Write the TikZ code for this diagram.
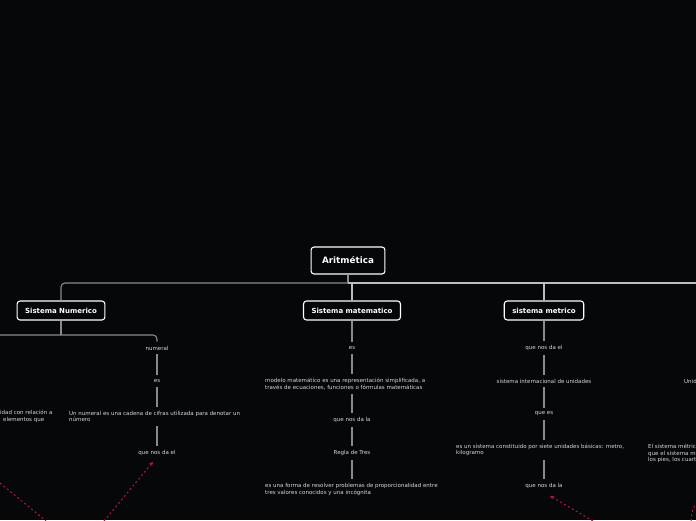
\documentclass[tikz,border=0pt]{standalone}
\usepackage{fontspec}
\setmainfont{DejaVu Sans}
\usetikzlibrary{arrows.meta, positioning}
\definecolor{bgdark}{HTML}{060709}
\definecolor{linegray}{HTML}{8A8A8A}
\definecolor{lightline}{HTML}{BDBDBD}
\definecolor{textgray}{HTML}{D8D8D8}
\definecolor{linkred}{HTML}{B8124C}

\begin{document}
\begin{tikzpicture}[x=1pt, y=-1pt,
  topic/.style={draw=white, line width=1.1pt, rounded corners=3pt, fill=bgdark, text=white,
    font=\fontsize{7}{8}\selectfont\bfseries, minimum height=19pt, inner xsep=8pt},
  rootbox/.style={topic, font=\fontsize{8.8}{10}\selectfont\bfseries, minimum height=27pt, inner xsep=11pt},
  leaf/.style={text=textgray, font=\fontsize{5.5}{6.5}\selectfont, inner xsep=0pt, inner ysep=4pt},
  longleaf/.style={leaf, align=left, anchor=west},
  branch/.style={draw=linegray, line width=1.1pt},
  xlink/.style={draw=linkred, line width=1pt, dash pattern=on 2pt off 2.5pt},
  xarrow/.style={xlink, -{Stealth[length=4pt, width=4pt]}}]

  % Background and frame
  \fill[bgdark] (0,0) rectangle (696,520);
  \useasboundingbox (0,0) rectangle (696,520);
  \clip (0,0) rectangle (696,520);

  % Main topics
  \node[rootbox] (arit) at (348,260.5) {Aritmética};
  \node[topic] (snum) at (61,310.5) {Sistema Numerico};
  \node[topic] (smat) at (352,310.5) {Sistema matematico};
  \node[topic] (smet) at (544,310.5) {sistema metrico};

  % Sistema Numerico
  \node[leaf] (numeral) at (157,348) {numeral};
  \node[leaf] (numEs) at (157,381) {es};
  \node[longleaf] (numDef) at (69,416.5) {Un numeral es una cadena de cifras utilizada para denotar un\\número};
  \node[leaf] (numDa) at (157,453) {que nos da el};
  \node[longleaf] (leftFrag) at (0,416.5) {idad con relación a\\\hspace*{3pt}elementos que};

  % Sistema matematico
  \node[leaf] (matEs) at (352,348) {es};
  \node[longleaf] (matDef) at (265,384) {modelo matemático es una representación simplificada, a\\través de ecuaciones, funciones o fórmulas matemáticas};
  \node[leaf] (matDa) at (352,420) {que nos da la};
  \node[leaf] (regla) at (352,453) {Regla de Tres};
  \node[longleaf] (reglaDef) at (265,489.5) {es una forma de resolver problemas de proporcionalidad entre\\tres valores conocidos y una incógnita};

  % sistema metrico
  \node[leaf] (metDa) at (544,348) {que nos da el};
  \node[leaf] (sisInt) at (544,381) {sistema internacional de unidades};
  \node[leaf] (queEs) at (544,414) {que es};
  \node[longleaf] (sisDef) at (456,450) {es un sistema constituido por siete unidades básicas: metro,\\kilogramo};
  \node[leaf] (metDa2) at (544,486) {que nos da la};

  % Right edge (cut off)
  \node[longleaf] (unid) at (684,381) {Unid};
  \node[longleaf] (rightFrag) at (648,453.5) {El sistema métric\\que el sistema m\\los pies, los cuart};

  % Top branches
  \coordinate (eastEnd) at (720,283);
  \coordinate (westEnd) at (-20,335);
  \draw[branch] (arit.south) -- (arit.south |- eastEnd);
  \draw[branch, rounded corners=4pt] (snum.north) |- (arit.south |- eastEnd);
  \draw[branch, draw=lightline] (arit.south |- eastEnd) -- (eastEnd);
  \draw[branch, draw=lightline] (smat.north) -- (smat.north |- eastEnd);
  \draw[branch, draw=lightline] (smet.north) -- (smet.north |- eastEnd);

  % Sub-branches
  \draw[branch] (snum.south) -- (snum.south |- westEnd);
  \draw[branch, rounded corners=4pt] (westEnd) -| (numeral.north);
  \foreach \a/\b in {numeral/numEs, smat/matEs, matDa/regla, smet/metDa, metDa/sisInt, sisInt/queEs}
    \draw[branch] (\a) -- (\b);
  \draw[branch] (numEs) -- (numEs |- numDef.north);
  \draw[branch] (numEs |- numDef.south) -- (numDa);
  \draw[branch] (matEs) -- (matEs |- matDef.north);
  \draw[branch] (matEs |- matDef.south) -- (matDa);
  \draw[branch] (regla) -- (regla |- reglaDef.north);
  \draw[branch] (queEs) -- (queEs |- sisDef.north);
  \draw[branch] (queEs |- sisDef.south) -- (metDa2);

  % Cross links
  \coordinate (linkA) at (104,521);
  \coordinate (linkB1) at (0,483);
  \coordinate (linkB2) at (46,521);
  \coordinate (linkC) at (593,521);
  \coordinate (linkD1) at (697,502);
  \coordinate (linkD2) at (691,522);
  \draw[xarrow] (linkA) -- ([xshift=-4pt, yshift=-2pt]numDa.south);
  \draw[xlink] (linkB1) -- (linkB2);
  \draw[xarrow] (linkC) -- ([xshift=6pt, yshift=-3pt]metDa2.south);
  \draw[xlink] (linkD1) .. controls (692,510) .. (linkD2);
\end{tikzpicture}
\end{document}
